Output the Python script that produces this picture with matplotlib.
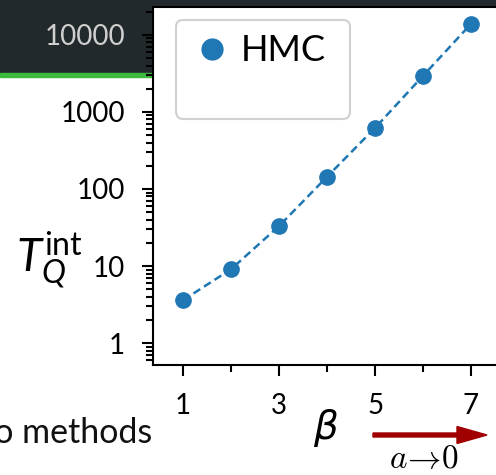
import matplotlib
matplotlib.use('Agg')
import matplotlib.pyplot as plt
from matplotlib.patches import Rectangle, FancyArrow
from matplotlib.lines import Line2D
from matplotlib.transforms import IdentityTransform

# data
beta = [1, 2, 3, 4, 5, 6, 7]
tau_hmc = [3.6, 9.1, 33, 144, 620, 2940, 13900]
x_ticks = [1, 3, 5, 7]
x_minor = [2, 4, 6]
y_ticks = [1, 10, 100, 1000, 10000]
y_tick_labels = ['1', '10', '100', '1000', '10000']

plt.rcParams['font.family'] = ['Lato', 'DejaVu Sans']
plt.rcParams['mathtext.fontset'] = 'custom'
plt.rcParams['mathtext.it'] = 'Lato:italic'
plt.rcParams['mathtext.rm'] = 'Lato'

W, H = 496, 475
fig = plt.figure(figsize=(W / 100, H / 100), dpi=100)


def px(x, y, w, h):
    # top-left pixel box -> figure fraction rect
    return [x / W, 1 - (y + h) / H, w / W, h / H]


# slide behind the figure: dark header bar with green underline
fig.patches.append(Rectangle((0, 1 - 73 / H), 1, 73 / H, transform=fig.transFigure,
                             color='#22292c', zorder=-2))
fig.patches.append(Rectangle((0, 1 - 77 / H), 1, 4 / H, transform=fig.transFigure,
                             color='#3dba3d', zorder=-2))

ax = fig.add_axes(px(153, 7, 343, 358))
ax.set_facecolor('white')
ax.plot(beta, tau_hmc, 'o--', color='#1f77b4', ms=11, lw=1.8, dashes=(3.2, 1.8))

ax.set_yscale('log')
ax.set_ylim(0.52, 23000)
ax.set_xlim(0.375, 7.52)
ax.set_yticks(y_ticks, y_tick_labels)
ax.set_xticks(x_ticks, [str(b) for b in x_ticks])
ax.set_xticks(x_minor, minor=True)

ax.spines['right'].set_visible(False)
for s in ['left', 'bottom', 'top']:
    ax.spines[s].set_linewidth(1.5)
ax.tick_params(which='major', length=8, width=1.5, labelsize=20, pad=12)
ax.tick_params(which='minor', length=5, width=1.5)

# ticks sitting over the dark header are drawn light
light = '#d0d0d0'
locs = ax.yaxis.get_majorticklocs()
for loc, tick in zip(locs, ax.yaxis.get_major_ticks(len(locs))):
    if loc > 3000:
        tick.tick1line.set_color(light)
        tick.label1.set_color(light)
mlocs = ax.yaxis.get_minorticklocs()
for loc, tick in zip(mlocs, ax.yaxis.get_minor_ticks(len(mlocs))):
    if loc > 3000:
        tick.tick1line.set_color(light)

handles = [Line2D([], [], ls='none', marker='o', color='#1f77b4', ms=15),
           Line2D([], [], ls='none', marker='none')]
leg = ax.legend(handles, ['HMC', 'HMC '], loc='upper left',
                bbox_to_anchor=(176 / W, 1 - 20 / H), bbox_transform=fig.transFigure,
                borderaxespad=0, fontsize=26, fancybox=True, edgecolor='#d0d0d0',
                framealpha=1, handlelength=1.2, handletextpad=0.2,
                borderpad=0.4, labelspacing=0.1)
leg.get_frame().set_linewidth(1.5)
leg.get_texts()[1].set_alpha(0)

fig.text(50 / W, 1 - 260 / H, r'$T_Q^{\mathrm{int}}$', fontsize=33, ha='center', va='center')
fig.text(326 / W, 1 - 428 / H, r'$\beta$', fontsize=28, ha='center', va='center',
         math_fontfamily='dejavusans')
fig.text(152 / W, 1 - 443 / H, 'to methods', fontsize=24.5, ha='right', va='baseline',
         color='#111111')
fig.text(424 / W, 1 - 459 / H, r'$a\!\to\!0$', fontsize=24, ha='center', va='center',
         math_fontfamily='cm')
fig.patches.append(FancyArrow(373, 40, 114, 0, width=4, head_width=17, head_length=30,
                              length_includes_head=True, color='#a00000',
                              transform=IdentityTransform()))

fig.savefig('out.png', dpi=100)
